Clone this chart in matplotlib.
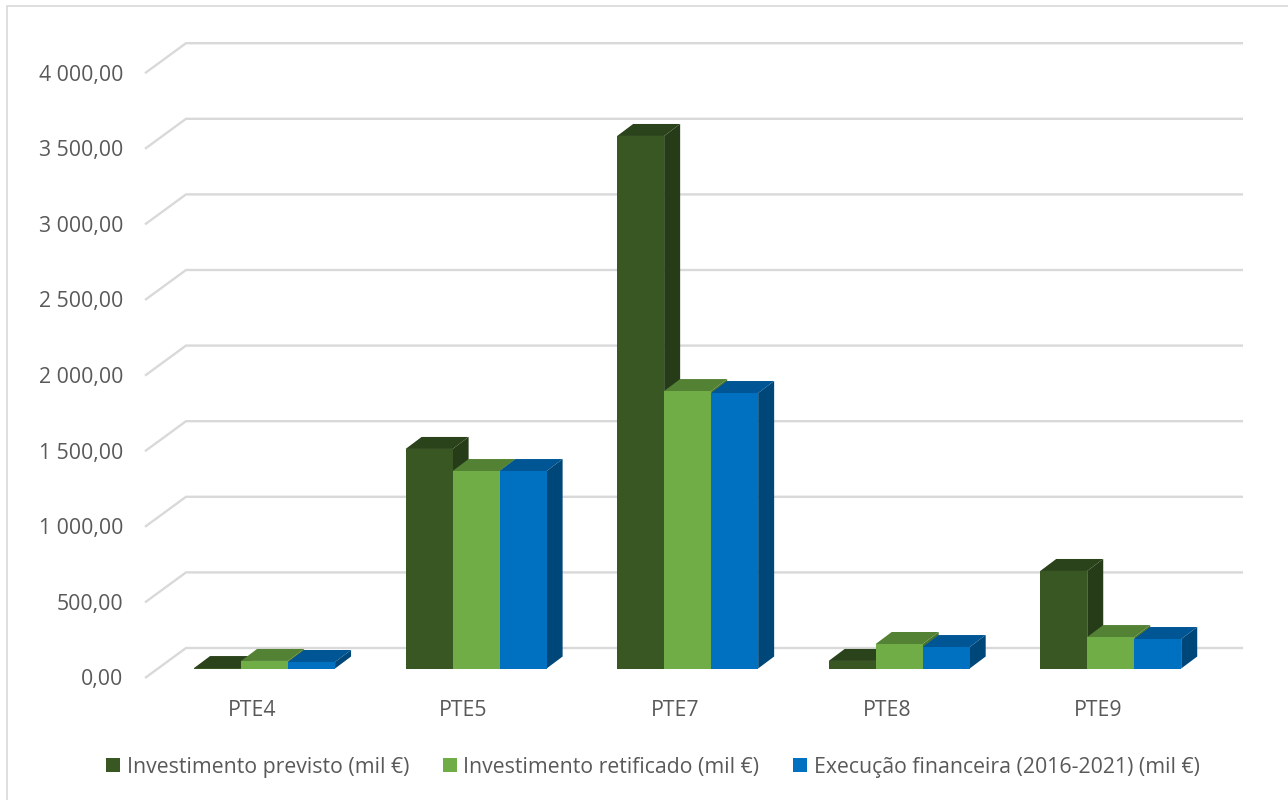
import matplotlib
matplotlib.use("Agg")
import matplotlib.pyplot as plt
from matplotlib.patches import Patch, Polygon, Rectangle

categories = ["PTE4", "PTE5", "PTE7", "PTE8", "PTE9"]
previsto = [3, 1452, 3522, 50, 645]
retificado = [50, 1306, 1835, 162, 208]
execucao = [43, 1306, 1822, 142, 195]
series_names = ["Investimento previsto (mil €)", "Investimento retificado (mil €)",
                "Execução financeira (2016-2021) (mil €)"]
y_ticks = [0, 500, 1000, 1500, 2000, 2500, 3000, 3500, 4000]
y_labels = ["0,00", "500,00", "1 000,00", "1 500,00", "2 000,00", "2 500,00",
            "3 000,00", "3 500,00", "4 000,00"]

W, H = 1288, 800
FONT = "Open Sans"
FS = 15.3
TXT = "#595959"
GRID = "#d9d9d9"
front = ["#385723", "#70ad47", "#0070c0"]
top = ["#2b431b", "#548235", "#005694"]
side = ["#263c18", "#4a7330", "#004779"]

fig = plt.figure(figsize=(W / 100, H / 100), dpi=100, facecolor="white")
fig.add_artist(Rectangle((6.5 / W, -0.1), 1.2, 1.1 - 6.5 / H, transform=fig.transFigure,
                         facecolor="none", edgecolor=GRID, linewidth=1.2))

# Axes = plane of the bars' front faces
L, R, B, T = 158.8, 1216.5, 668.5, 63.7
ax = fig.add_axes([L / W, 1 - B / H, (R - L) / W, (B - T) / H])
ax.set_xlim(-0.5, 4.5)
ax.set_ylim(0, 4000)
ax.axis("off")
px = 5 / (R - L)
py = 4000 / (B - T)

# Gridlines: back wall and side wall
for v, lab in zip(y_ticks, y_labels):
    xs = [-0.5 - 13.8 * px, -0.5 + 27.2 * px, 4.5 + 26.5 * px]
    ys = [v - 9.5 * py, v + 20.5 * py, v + 20.5 * py]
    ax.plot(xs, ys, color=GRID, lw=1.7, clip_on=False, zorder=1, solid_capstyle="butt",
            solid_joinstyle="miter")
    ax.text(-0.5 - 35.8 * px, v - 9.0 * py, lab, ha="right", va="center_baseline", fontsize=FS,
            family=FONT, color=TXT, clip_on=False)

# 3-D bars
bw = 47 / (R - L) * 5
dx, dy = 16 * px, 12 * py
z = 2
for i, cat in enumerate(categories):
    for s, vals in enumerate([previsto, retificado, execucao]):
        x0 = i + (s - 1.5) * bw
        x1 = x0 + bw
        v = vals[i]
        ax.add_patch(Polygon([(x1, 0), (x1 + dx, dy), (x1 + dx, v + dy), (x1, v)], closed=True,
                             facecolor=side[s], edgecolor="none", zorder=z, clip_on=False))
        ax.add_patch(Polygon([(x0, v), (x0 + dx, v + dy), (x1 + dx, v + dy), (x1, v)], closed=True,
                             facecolor=top[s], edgecolor="none", zorder=z, clip_on=False))
        ax.bar(x0, v, width=bw, align="edge", color=front[s], zorder=z + 0.5, clip_on=False)
        z += 1
    ax.text(i - 12.5 * px, -39.3 * py, cat, ha="center", va="center_baseline", fontsize=FS,
            family=FONT, color=TXT, clip_on=False)

handles = [Patch(facecolor=c, edgecolor="none") for c in front]
leg = ax.legend(handles, series_names, ncol=3, loc="center", frameon=False,
                bbox_to_anchor=(653 / W, 1 - 767 / H), bbox_transform=fig.transFigure,
                prop={"family": FONT, "size": FS}, labelcolor=TXT,
                handlelength=0.66, handleheight=0.66, handletextpad=0.3, columnspacing=1.6,
                borderpad=0, borderaxespad=0)

fig.savefig("out.png", dpi=100, facecolor="white")
